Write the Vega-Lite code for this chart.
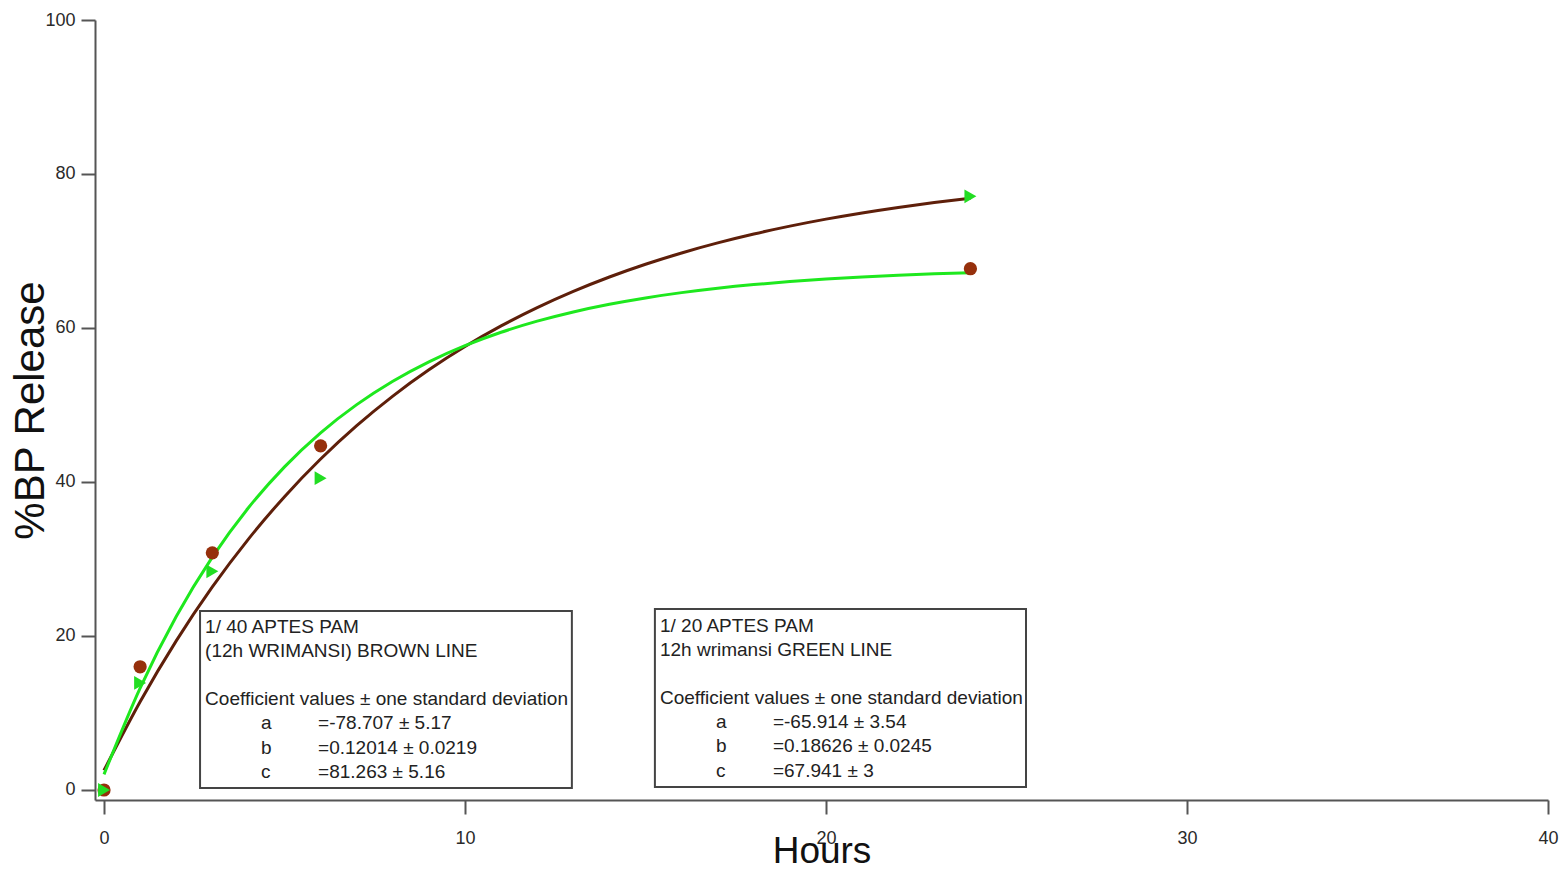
{
  "$schema": "https://vega.github.io/schema/vega-lite/v6.json",
  "width": 1453,
  "height": 780,
  "autosize": {"type": "none"},
  "padding": {"left": 95, "top": 20, "right": 15, "bottom": 73},
  "background": "white",
  "config": {
    "view": {"stroke": null},
    "font": "Liberation Sans",
    "axis": {
      "grid": false,
      "domainColor": "#555555",
      "domainWidth": 2,
      "tickColor": "#555555",
      "tickWidth": 2,
      "tickSize": 14,
      "labelFont": "Liberation Sans",
      "labelFontSize": 18,
      "labelColor": "#2a2a2a",
      "titleFont": "Liberation Sans",
      "titleFontWeight": "normal",
      "titleColor": "#111111",
      "labelOverlap": false,
      "labelFlush": false,
      "labelBound": false
    }
  },
  "datasets": {
    "curves": [
      {"hours": 0, "release": 2.556, "series": "brown"},
      {"hours": 1, "release": 11.466, "series": "brown"},
      {"hours": 2, "release": 19.367, "series": "brown"},
      {"hours": 3, "release": 26.373, "series": "brown"},
      {"hours": 4, "release": 32.586, "series": "brown"},
      {"hours": 5, "release": 38.096, "series": "brown"},
      {"hours": 6, "release": 42.982, "series": "brown"},
      {"hours": 7, "release": 47.316, "series": "brown"},
      {"hours": 8, "release": 51.158, "series": "brown"},
      {"hours": 9, "release": 54.566, "series": "brown"},
      {"hours": 10, "release": 57.588, "series": "brown"},
      {"hours": 11, "release": 60.268, "series": "brown"},
      {"hours": 12, "release": 62.645, "series": "brown"},
      {"hours": 13, "release": 64.752, "series": "brown"},
      {"hours": 14, "release": 66.621, "series": "brown"},
      {"hours": 15, "release": 68.279, "series": "brown"},
      {"hours": 16, "release": 69.748, "series": "brown"},
      {"hours": 17, "release": 71.052, "series": "brown"},
      {"hours": 18, "release": 72.208, "series": "brown"},
      {"hours": 19, "release": 73.232, "series": "brown"},
      {"hours": 20, "release": 74.142, "series": "brown"},
      {"hours": 21, "release": 74.948, "series": "brown"},
      {"hours": 22, "release": 75.663, "series": "brown"},
      {"hours": 23, "release": 76.297, "series": "brown"},
      {"hours": 24, "release": 76.859, "series": "brown"},
      {"hours": 0, "release": 2.027, "series": "green"},
      {"hours": 1, "release": 13.228, "series": "green"},
      {"hours": 2, "release": 22.526, "series": "green"},
      {"hours": 3, "release": 30.244, "series": "green"},
      {"hours": 4, "release": 36.650, "series": "green"},
      {"hours": 5, "release": 41.968, "series": "green"},
      {"hours": 6, "release": 46.382, "series": "green"},
      {"hours": 7, "release": 50.045, "series": "green"},
      {"hours": 8, "release": 53.087, "series": "green"},
      {"hours": 9, "release": 55.611, "series": "green"},
      {"hours": 10, "release": 57.706, "series": "green"},
      {"hours": 11, "release": 59.446, "series": "green"},
      {"hours": 12, "release": 60.889, "series": "green"},
      {"hours": 13, "release": 62.088, "series": "green"},
      {"hours": 14, "release": 63.082, "series": "green"},
      {"hours": 15, "release": 63.908, "series": "green"},
      {"hours": 16, "release": 64.593, "series": "green"},
      {"hours": 17, "release": 65.162, "series": "green"},
      {"hours": 18, "release": 65.635, "series": "green"},
      {"hours": 19, "release": 66.026, "series": "green"},
      {"hours": 20, "release": 66.352, "series": "green"},
      {"hours": 21, "release": 66.622, "series": "green"},
      {"hours": 22, "release": 66.846, "series": "green"},
      {"hours": 23, "release": 67.032, "series": "green"},
      {"hours": 24, "release": 67.186, "series": "green"}
    ],
    "brownPoints": [
      {"hours": 0, "release": 0},
      {"hours": 1, "release": 16.0},
      {"hours": 3, "release": 30.8},
      {"hours": 6, "release": 44.7},
      {"hours": 24, "release": 67.7}
    ],
    "greenPoints": [
      {"hours": 0, "release": 0},
      {"hours": 1, "release": 13.9},
      {"hours": 3, "release": 28.4},
      {"hours": 6, "release": 40.5},
      {"hours": 24, "release": 77.1}
    ],
    "boxes": [
      {"x1": 2.66, "x2": 12.96, "y1": 0.26, "y2": 23.25},
      {"x1": 15.26, "x2": 25.54, "y1": 0.39, "y2": 23.5}
    ],
    "notes": [
      {"x": 2.80, "y": 21.17, "label": "1/ 40 APTES PAM"},
      {"x": 2.80, "y": 18.05, "label": "(12h WRIMANSI) BROWN LINE"},
      {"x": 2.80, "y": 11.82, "label": "Coefficient values ± one standard deviation"},
      {"x": 4.35, "y": 8.70, "label": "a"},
      {"x": 4.35, "y": 5.45, "label": "b"},
      {"x": 4.35, "y": 2.34, "label": "c"},
      {"x": 5.93, "y": 8.70, "label": "=-78.707 ± 5.17"},
      {"x": 5.93, "y": 5.45, "label": "=0.12014 ± 0.0219"},
      {"x": 5.93, "y": 2.34, "label": "=81.263 ± 5.16"},
      {"x": 15.40, "y": 21.30, "label": "1/ 20 APTES PAM"},
      {"x": 15.40, "y": 18.18, "label": "12h wrimansi GREEN LINE"},
      {"x": 15.40, "y": 11.95, "label": "Coefficient values ± one standard deviation"},
      {"x": 16.95, "y": 8.83, "label": "a"},
      {"x": 16.95, "y": 5.71, "label": "b"},
      {"x": 16.95, "y": 2.47, "label": "c"},
      {"x": 18.53, "y": 8.83, "label": "=-65.914 ± 3.54"},
      {"x": 18.53, "y": 5.71, "label": "=0.18626 ± 0.0245"},
      {"x": 18.53, "y": 2.47, "label": "=67.941 ± 3"}
    ]
  },
  "layer": [
    {
      "data": {"name": "boxes"},
      "mark": {"type": "rect", "fill": "white", "stroke": "#444444", "strokeWidth": 2},
      "encoding": {
        "x": {"field": "x1", "type": "quantitative", "scale": {"domain": [-0.25, 40], "nice": false, "zero": false},
              "axis": {"values": [0, 10, 20, 30, 40], "title": "Hours", "titleFontSize": 37, "titleBaseline": "alphabetic", "titleY": 62, "labelPadding": 15}},
        "x2": {"field": "x2"},
        "y": {"field": "y1", "type": "quantitative", "scale": {"domain": [-1.3, 100], "nice": false, "zero": false},
              "axis": {"values": [0, 20, 40, 60, 80, 100], "title": "%BP Release", "titleFontSize": 42, "titleBaseline": "alphabetic", "titleAngle": -90, "titleX": -52, "titleY": 390, "titleAlign": "center", "labelPadding": 6}},
        "y2": {"field": "y2"}
      }
    },
    {
      "data": {"name": "curves"},
      "mark": {"type": "line", "strokeWidth": 3, "interpolate": "monotone"},
      "encoding": {
        "x": {"field": "hours", "type": "quantitative"},
        "y": {"field": "release", "type": "quantitative"},
        "detail": {"field": "series"},
        "color": {"field": "series", "type": "nominal", "scale": {"domain": ["brown", "green"], "range": ["#5e1f0a", "#1ee81e"]}, "legend": null}
      }
    },
    {
      "data": {"name": "brownPoints"},
      "mark": {"type": "point", "shape": "circle", "filled": true, "opacity": 1, "size": 175, "color": "#96300c"},
      "encoding": {
        "x": {"field": "hours", "type": "quantitative"},
        "y": {"field": "release", "type": "quantitative"}
      }
    },
    {
      "data": {"name": "greenPoints"},
      "mark": {"type": "point", "shape": "triangle-right", "filled": true, "opacity": 1, "size": 190, "color": "#22dd22"},
      "encoding": {
        "x": {"field": "hours", "type": "quantitative"},
        "y": {"field": "release", "type": "quantitative"}
      }
    },
    {
      "data": {"name": "notes"},
      "mark": {"type": "text", "align": "left", "baseline": "middle", "fontSize": 19, "font": "Liberation Sans", "color": "#222222"},
      "encoding": {
        "x": {"field": "x", "type": "quantitative"},
        "y": {"field": "y", "type": "quantitative"},
        "text": {"field": "label"}
      }
    }
  ]
}
